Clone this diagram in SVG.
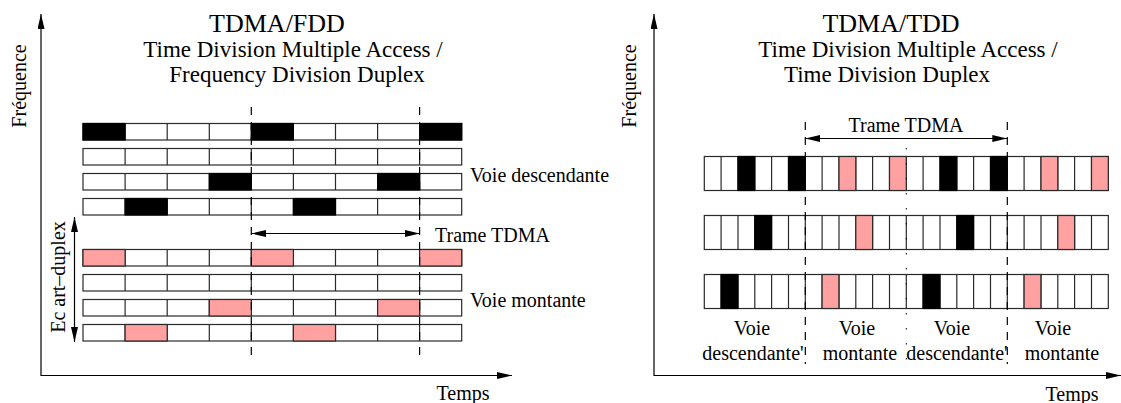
<svg xmlns="http://www.w3.org/2000/svg" width="1121" height="403" viewBox="0 0 1121 403">
  <style>
    text { font-family: "Liberation Serif", "Times New Roman", serif; fill: #000; }
    .title { font-size: 26px; text-anchor: middle; }
    .sub { font-size: 23px; text-anchor: middle; }
    .lbl { font-size: 20px; }
    .mid { text-anchor: middle; }
    .row { fill: #fff; stroke: #2a2a2a; stroke-width: 1.2; }
    .div { fill: none; stroke: #2a2a2a; stroke-width: 1.2; }
    .k { fill: #000; stroke: #000; stroke-width: 1.2; }
    .p { fill: #ffa1a1; stroke: #2a2a2a; stroke-width: 1.2; }
    .axis { fill: none; stroke: #000; stroke-width: 1.2; }
    .dash { fill: none; stroke: #000; stroke-width: 1.2; stroke-dasharray: 8 7; }
    .dot { fill: none; stroke: #000; stroke-width: 1; stroke-dasharray: 1.5 13.5; }
  </style>
  <defs>
    <marker id="arrow" viewBox="0 0 15 7" refX="15" refY="3.5" markerWidth="15" markerHeight="7" markerUnits="userSpaceOnUse" orient="auto-start-reverse">
      <path d="M0,0 L15,3.5 L0,7 z" fill="#000"/>
    </marker>
  </defs>

  <!-- ===== Left panel: TDMA/FDD ===== -->
  <g id="fdd-title">
    <text class="title" x="277" y="31.5">TDMA/FDD</text>
    <text class="sub" x="293" y="56.5">Time Division Multiple Access /</text>
    <text class="sub" x="297" y="81.5">Frequency Division Duplex</text>
  </g>

  <g id="fdd-axes">
    <line class="axis" x1="41" y1="376" x2="41" y2="14" marker-end="url(#arrow)"/>
    <line class="axis" x1="41" y1="375.5" x2="512" y2="375.5" marker-end="url(#arrow)"/>
    <text class="lbl mid" transform="translate(26,86) rotate(-90)">Fréquence</text>
    <text class="lbl mid" x="463" y="400">Temps</text>
  </g>

  <!-- downlink carriers -->
  <g id="fdd-down-1">
    <rect class="row" x="83" y="123.5" width="378.7" height="16.5"/>
    <path class="div" d="M125.1,123.5v16.5M167.2,123.5v16.5M209.3,123.5v16.5M251.3,123.5v16.5M293.4,123.5v16.5M335.5,123.5v16.5M377.6,123.5v16.5M419.6,123.5v16.5"/>
    <rect class="k" x="83" y="123.5" width="42.1" height="16.5"/>
    <rect class="k" x="251.3" y="123.5" width="42.1" height="16.5"/>
    <rect class="k" x="419.6" y="123.5" width="42.1" height="16.5"/>
  </g>
  <g id="fdd-down-2">
    <rect class="row" x="83" y="148.5" width="378.7" height="16.5"/>
    <path class="div" d="M125.1,148.5v16.5M167.2,148.5v16.5M209.3,148.5v16.5M251.3,148.5v16.5M293.4,148.5v16.5M335.5,148.5v16.5M377.6,148.5v16.5M419.6,148.5v16.5"/>
  </g>
  <g id="fdd-down-3">
    <rect class="row" x="83" y="173.5" width="378.7" height="16.5"/>
    <path class="div" d="M125.1,173.5v16.5M167.2,173.5v16.5M209.3,173.5v16.5M251.3,173.5v16.5M293.4,173.5v16.5M335.5,173.5v16.5M377.6,173.5v16.5M419.6,173.5v16.5"/>
    <rect class="k" x="209.3" y="173.5" width="42.1" height="16.5"/>
    <rect class="k" x="377.6" y="173.5" width="42.1" height="16.5"/>
  </g>
  <g id="fdd-down-4">
    <rect class="row" x="83" y="198.5" width="378.7" height="16.5"/>
    <path class="div" d="M125.1,198.5v16.5M167.2,198.5v16.5M209.3,198.5v16.5M251.3,198.5v16.5M293.4,198.5v16.5M335.5,198.5v16.5M377.6,198.5v16.5M419.6,198.5v16.5"/>
    <rect class="k" x="125.1" y="198.5" width="42.1" height="16.5"/>
    <rect class="k" x="293.4" y="198.5" width="42.1" height="16.5"/>
  </g>

  <!-- uplink carriers -->
  <g id="fdd-up-1">
    <rect class="row" x="83" y="249.5" width="378.7" height="16.5"/>
    <path class="div" d="M125.1,249.5v16.5M167.2,249.5v16.5M209.3,249.5v16.5M251.3,249.5v16.5M293.4,249.5v16.5M335.5,249.5v16.5M377.6,249.5v16.5M419.6,249.5v16.5"/>
    <rect class="p" x="83" y="249.5" width="42.1" height="16.5"/>
    <rect class="p" x="251.3" y="249.5" width="42.1" height="16.5"/>
    <rect class="p" x="419.6" y="249.5" width="42.1" height="16.5"/>
  </g>
  <g id="fdd-up-2">
    <rect class="row" x="83" y="274.5" width="378.7" height="16.5"/>
    <path class="div" d="M125.1,274.5v16.5M167.2,274.5v16.5M209.3,274.5v16.5M251.3,274.5v16.5M293.4,274.5v16.5M335.5,274.5v16.5M377.6,274.5v16.5M419.6,274.5v16.5"/>
  </g>
  <g id="fdd-up-3">
    <rect class="row" x="83" y="299.5" width="378.7" height="16.5"/>
    <path class="div" d="M125.1,299.5v16.5M167.2,299.5v16.5M209.3,299.5v16.5M251.3,299.5v16.5M293.4,299.5v16.5M335.5,299.5v16.5M377.6,299.5v16.5M419.6,299.5v16.5"/>
    <rect class="p" x="209.3" y="299.5" width="42.1" height="16.5"/>
    <rect class="p" x="377.6" y="299.5" width="42.1" height="16.5"/>
  </g>
  <g id="fdd-up-4">
    <rect class="row" x="83" y="324.5" width="378.7" height="16.5"/>
    <path class="div" d="M125.1,324.5v16.5M167.2,324.5v16.5M209.3,324.5v16.5M251.3,324.5v16.5M293.4,324.5v16.5M335.5,324.5v16.5M377.6,324.5v16.5M419.6,324.5v16.5"/>
    <rect class="p" x="125.1" y="324.5" width="42.1" height="16.5"/>
    <rect class="p" x="293.4" y="324.5" width="42.1" height="16.5"/>
  </g>

  <g id="fdd-labels">
    <text class="lbl" x="470" y="181.5">Voie descendante</text>
    <text class="lbl" x="435" y="241.5">Trame TDMA</text>
    <text class="lbl" x="470" y="306.5">Voie montante</text>
    <text class="lbl mid" transform="translate(65,277) rotate(-90)">Ec art–duplex</text>
  </g>

  <!-- ===== Right panel: TDMA/TDD ===== -->
  <g id="tdd-title">
    <text class="title" x="891" y="31.5">TDMA/TDD</text>
    <text class="sub" x="908" y="56.5">Time Division Multiple Access /</text>
    <text class="sub" x="887" y="81.5">Time Division Duplex</text>
  </g>

  <g id="tdd-axes">
    <line class="axis" x1="654" y1="376" x2="654" y2="14" marker-end="url(#arrow)"/>
    <line class="axis" x1="654" y1="375.5" x2="1121" y2="375.5" marker-end="url(#arrow)"/>
    <text class="lbl mid" transform="translate(636,86) rotate(-90)">Fréquence</text>
    <text class="lbl mid" x="1072" y="401">Temps</text>
  </g>

  <g id="tdd-carrier-1">
    <rect class="row" x="704.3" y="156.5" width="404" height="34"/>
    <path class="div" d="M721.1,156.5v34M738,156.5v34M754.8,156.5v34M771.6,156.5v34M788.5,156.5v34M805.3,156.5v34M822.1,156.5v34M839,156.5v34M855.8,156.5v34M872.6,156.5v34M889.5,156.5v34M906.3,156.5v34M923.1,156.5v34M940,156.5v34M956.8,156.5v34M973.6,156.5v34M990.5,156.5v34M1007.3,156.5v34M1024.1,156.5v34M1041,156.5v34M1057.8,156.5v34M1074.6,156.5v34M1091.5,156.5v34"/>
    <rect class="k" x="738" y="156.5" width="16.8" height="34"/>
    <rect class="k" x="788.5" y="156.5" width="16.8" height="34"/>
    <rect class="p" x="839" y="156.5" width="16.8" height="34"/>
    <rect class="p" x="889.5" y="156.5" width="16.8" height="34"/>
    <rect class="k" x="940" y="156.5" width="16.8" height="34"/>
    <rect class="k" x="990.5" y="156.5" width="16.8" height="34"/>
    <rect class="p" x="1041" y="156.5" width="16.8" height="34"/>
    <rect class="p" x="1091.5" y="156.5" width="16.8" height="34"/>
  </g>
  <g id="tdd-carrier-2">
    <rect class="row" x="704.3" y="215.5" width="404" height="34"/>
    <path class="div" d="M721.1,215.5v34M738,215.5v34M754.8,215.5v34M771.6,215.5v34M788.5,215.5v34M805.3,215.5v34M822.1,215.5v34M839,215.5v34M855.8,215.5v34M872.6,215.5v34M889.5,215.5v34M906.3,215.5v34M923.1,215.5v34M940,215.5v34M956.8,215.5v34M973.6,215.5v34M990.5,215.5v34M1007.3,215.5v34M1024.1,215.5v34M1041,215.5v34M1057.8,215.5v34M1074.6,215.5v34M1091.5,215.5v34"/>
    <rect class="k" x="754.8" y="215.5" width="16.8" height="34"/>
    <rect class="p" x="855.8" y="215.5" width="16.8" height="34"/>
    <rect class="k" x="956.8" y="215.5" width="16.8" height="34"/>
    <rect class="p" x="1057.8" y="215.5" width="16.8" height="34"/>
  </g>
  <g id="tdd-carrier-3">
    <rect class="row" x="704.3" y="274.5" width="404" height="34"/>
    <path class="div" d="M721.1,274.5v34M738,274.5v34M754.8,274.5v34M771.6,274.5v34M788.5,274.5v34M805.3,274.5v34M822.1,274.5v34M839,274.5v34M855.8,274.5v34M872.6,274.5v34M889.5,274.5v34M906.3,274.5v34M923.1,274.5v34M940,274.5v34M956.8,274.5v34M973.6,274.5v34M990.5,274.5v34M1007.3,274.5v34M1024.1,274.5v34M1041,274.5v34M1057.8,274.5v34M1074.6,274.5v34M1091.5,274.5v34"/>
    <rect class="k" x="721.1" y="274.5" width="16.8" height="34"/>
    <rect class="p" x="822.1" y="274.5" width="16.8" height="34"/>
    <rect class="k" x="923.1" y="274.5" width="16.8" height="34"/>
    <rect class="p" x="1024.1" y="274.5" width="16.8" height="34"/>
  </g>

  <g id="tdd-labels">
    <text class="lbl mid" x="906" y="131.5">Trame TDMA</text>
    <text class="lbl mid" x="752" y="335">Voie</text>
    <text class="lbl mid" x="753" y="360">descendante'</text>
    <text class="lbl mid" x="857" y="335">Voie</text>
    <text class="lbl mid" x="860" y="360">montante</text>
    <text class="lbl mid" x="952" y="335">Voie</text>
    <text class="lbl mid" x="957" y="360">descendante'</text>
    <text class="lbl mid" x="1053" y="335">Voie</text>
    <text class="lbl mid" x="1062" y="360">montante</text>
  </g>

  <!-- frame boundaries and span arrows -->
  <g id="connectors">
    <line class="dash" x1="251.3" y1="107" x2="251.3" y2="358"/>
    <line class="dash" x1="419.6" y1="107" x2="419.6" y2="358"/>
    <line class="axis" x1="251.3" y1="233.5" x2="419.6" y2="233.5" marker-start="url(#arrow)" marker-end="url(#arrow)"/>
    <line class="axis" x1="74.5" y1="217" x2="74.5" y2="342" marker-start="url(#arrow)" marker-end="url(#arrow)"/>
    <line class="dash" x1="805.3" y1="122" x2="805.3" y2="364"/>
    <line class="dash" x1="1007.3" y1="122" x2="1007.3" y2="364"/>
    <line class="dot" x1="906.3" y1="148" x2="906.3" y2="366"/>
    <line class="axis" x1="805.3" y1="138.5" x2="1007.3" y2="138.5" marker-start="url(#arrow)" marker-end="url(#arrow)"/>
  </g>
</svg>
